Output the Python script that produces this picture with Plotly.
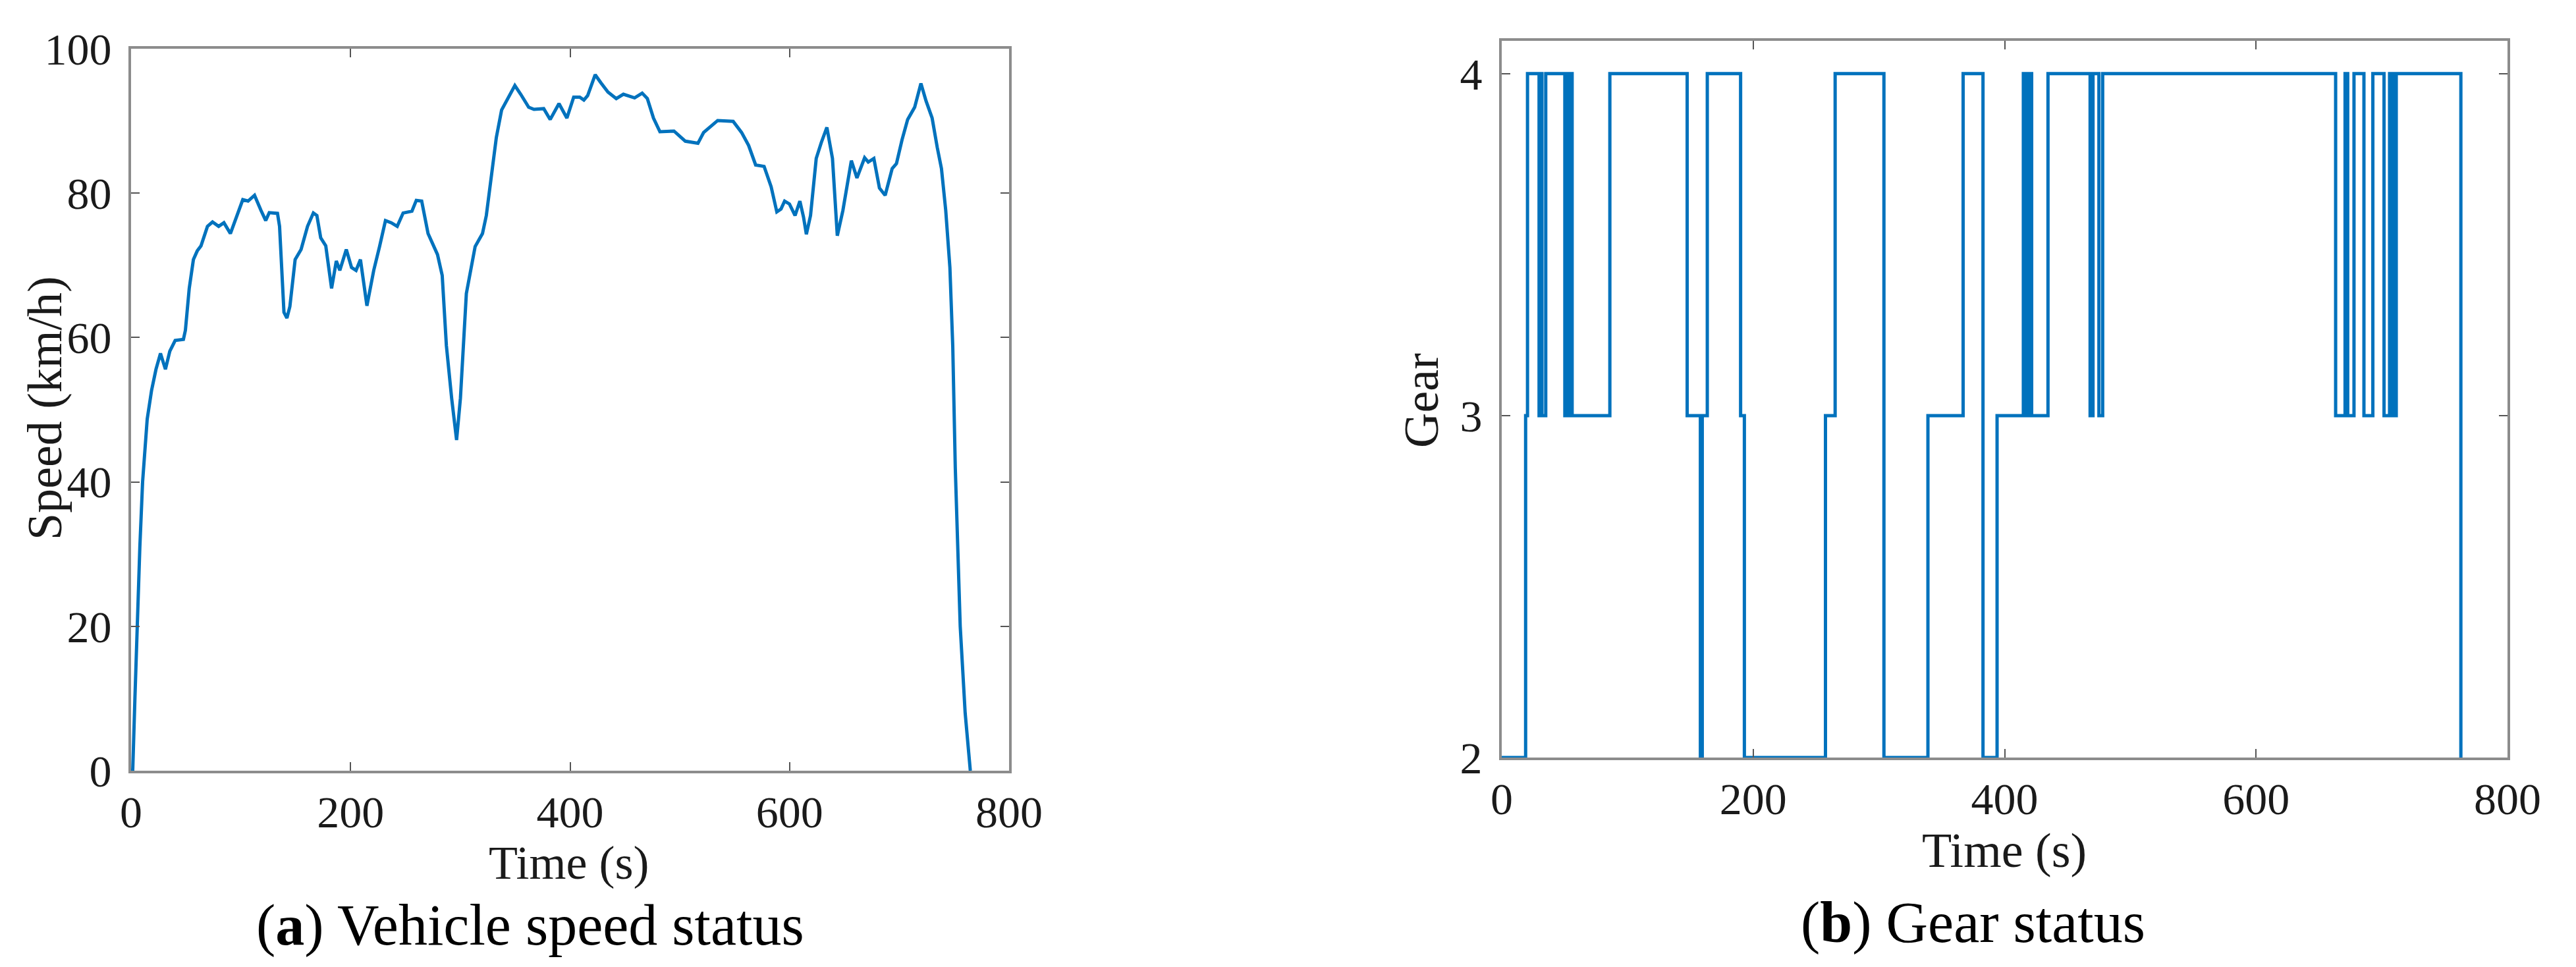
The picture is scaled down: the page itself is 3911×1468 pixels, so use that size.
import plotly.graph_objects as go

# ---------------- data ----------------
speed_time = [0, 1.5, 3.5, 5.5, 8, 10.5, 14.7, 18.7, 22.7, 26.8, 31.3, 35.3, 40.2, 47.7, 49.5, 53,
              56.8, 60.3, 63.7, 69.6, 74.2, 79.8, 84.6, 90.5, 96.4, 101.8, 106.6, 112.5, 118.4, 122.7,
              125.9, 133.4, 135.3, 139.3, 142, 144.7, 149.5, 154.9, 160.8, 166.1, 169.3, 172.8, 177.4,
              182.7, 187, 190.2, 196.1, 200.9, 205, 209, 214.9, 221.1, 226.4, 231.8, 237.1, 242.5,
              247.9, 255.9, 259.9, 264.8, 270.6, 279.2, 283.5, 287.3, 292.1, 296.6, 300.1, 305.5,
              313.5, 320.2, 323.7, 332.8, 337.6, 341.7, 349.7, 355, 362.3, 367.1, 376, 381.9, 389.9,
              397.1, 403.3, 408.8, 412.6, 416, 422.9, 428, 434.5, 442.1, 448.6, 458.8, 465.7, 470.4,
              476, 481.9, 494.7, 505, 516.5, 521.7, 534.5, 548.6, 556.3, 562.7, 569.1, 576.8, 583.2,
              588.4, 592.2, 595.5, 599.9, 605, 609.4, 612.7, 615.3, 619.1, 624.3, 628.9, 634, 639.1,
              643.5, 648.6, 656.3, 661.4, 668.4, 671.7, 676.8, 681.9, 687.1, 693.5, 697.4, 702.5,
              707.6, 714, 719.7, 724.3, 729.9, 734.6, 738.4, 742.3, 746.1, 748.7, 751, 755.5, 760, 764.7]
speed_kmh = [0, 0, 10, 20, 31, 40, 48.7, 52.7, 55.6, 57.8, 55.6, 58.1, 59.6, 59.75, 61, 66.8,
             70.8, 72, 72.7, 75.4, 76, 75.4, 75.9, 74.4, 76.7, 79.1, 78.9, 79.7, 77.6, 76.2,
             77.3, 77.2, 75.4, 63.5, 62.7, 64.3, 70.8, 72.2, 75.4, 77.25, 76.9, 73.8, 72.7,
             66.8, 70.6, 69.3, 72.2, 69.7, 69.3, 70.8, 64.4, 69.3, 72.6, 76.2, 75.9, 75.4,
             77.25, 77.5, 79, 78.9, 74.4, 71.5, 68.6, 58.9, 51.6, 45.8, 51.6, 66.1,
             72.6, 74.4, 76.9, 87.7, 91.5, 92.6, 94.9, 93.7, 91.9, 91.6, 91.7, 90.2, 92.4,
             90.4, 93.3, 93.3, 92.9, 93.5, 96.4, 95.3, 94.0, 93.1, 93.7, 93.2, 93.85, 93.1,
             90.4, 88.5, 88.6, 87.2, 86.9, 88.4, 90.06, 89.95, 88.4, 86.6, 83.9, 83.7, 80.9,
             77.4, 77.8, 78.9, 78.5, 76.9, 78.9, 76.7, 74.3, 76.9, 84.8, 87, 89.1, 84.8,
             74.1, 77.6, 84.5, 82.1, 84.9, 84.3, 84.8, 80.7, 79.7, 83.4, 84.1, 87.4,
             90.2, 91.9, 95.2, 92.8, 90.4, 86.3, 83.4, 77.6, 69.7, 58.8, 42, 20, 8, 0]

# gear changes: gear_value[i] holds from gear_time[i] until gear_time[i+1]
gear_time = [0, 19, 20.5, 29.7, 31, 32, 35, 50.2, 51.5, 53, 54, 56, 86, 147.5, 158, 159.5, 163.5,
             190, 193, 257.5, 265.2, 304, 339, 367, 382.8, 394, 414.9, 416.2, 417.4, 418.8, 420,
             421.5, 434.5, 468, 470.3, 475, 478, 663.3, 670.8, 672.9, 677.9, 685.8, 692.9,
             701.8, 706.2, 707.5, 709.5, 710.5, 711.5, 762.9]
gear_value = [2, 3, 4, 3, 4, 3, 4, 3, 4, 3, 4, 3, 4, 3, 2, 3, 4,
              3, 2, 3, 4, 2, 3, 4, 2, 3, 4, 3, 4, 3, 4,
              3, 4, 3, 4, 3, 4, 3, 4, 3, 4, 3, 4,
              3, 4, 3, 4, 3, 4, 2]

speed_ticks = [0, 20, 40, 60, 80, 100]
time_ticks = [0, 200, 400, 600, 800]
gear_ticks = [2, 3, 4]

# ---------------- layout helpers ----------------
W, H = 3911, 1468
BODY = 8                      # default page margin around the plot div
FW, FH = W - 2 * BODY, H - 2 * BODY
def px(x):
    return (x - BODY) / FW
def py(y):
    return 1 - (y - BODY) / FH

LINE = "#0072BD"
FONT = "Liberation Serif"
FRAME = "#8c8c8c"

fig = go.Figure()
fig.add_trace(go.Scatter(x=speed_time, y=speed_kmh, mode="lines",
                         line=dict(color=LINE, width=5), xaxis="x", yaxis="y",
                         showlegend=False))
fig.add_trace(go.Scatter(x=gear_time, y=gear_value, mode="lines",
                         line=dict(color=LINE, width=5, shape="hv"), xaxis="x2", yaxis="y2",
                         showlegend=False))

axis_common = dict(showgrid=False, zeroline=False, showline=True, linecolor=FRAME, linewidth=4,
                   mirror="ticks", ticks="inside", ticklen=13, tickwidth=2, tickcolor="#555555",
                   automargin=False,
                   tickfont=dict(family=FONT, size=68, color="#1a1a1a"))

fig.update_layout(
    template="none",
    width=FW, height=FH,
    margin=dict(l=0, r=0, t=0, b=0, autoexpand=False),
    paper_bgcolor="white", plot_bgcolor="white",
    xaxis=dict(domain=[px(199), px(1532)], range=[0, 800], tickvals=time_ticks,
               anchor="y", ticklabelstandoff=0, **axis_common),
    yaxis=dict(domain=[py(1170), py(74)], range=[0, 100], tickvals=speed_ticks,
               anchor="x", ticklabelstandoff=12, **axis_common),
    xaxis2=dict(domain=[px(2280), px(3807)], range=[0, 800], tickvals=time_ticks,
                anchor="y2", ticklabelstandoff=0, **axis_common),
    yaxis2=dict(domain=[py(1150), py(62)], range=[2, 4.096], tickvals=gear_ticks,
                anchor="x2", ticklabelstandoff=12, **axis_common),
)

ann_font = dict(family=FONT, size=74, color="#1a1a1a")
ann_font_a = dict(family=FONT, size=72, color="#1a1a1a")
cap_font = dict(family=FONT, size=88, color="black")
annotations = [
    dict(text="Time (s)", x=px(863), y=py(1310), font=ann_font_a, borderpad=0),
    dict(text="Time (s)", x=px(3043), y=py(1291), font=ann_font, borderpad=0),
    dict(text="Speed (km/h)", x=px(68), y=py(620), font=ann_font, textangle=-90),
    dict(text="Gear", x=px(2158), y=py(608), font=ann_font, textangle=-90),
    dict(text="(<b>a</b>) Vehicle speed status", x=px(805), y=py(1404), font=cap_font, borderpad=0),
    dict(text="(<b>b</b>) Gear status", x=px(2995), y=py(1400), font=cap_font, borderpad=0),
]
for a in annotations:
    a.update(xref="paper", yref="paper", xanchor="center", yanchor="middle", showarrow=False)
fig.update_layout(annotations=annotations)

fig.write_html("out.html")
